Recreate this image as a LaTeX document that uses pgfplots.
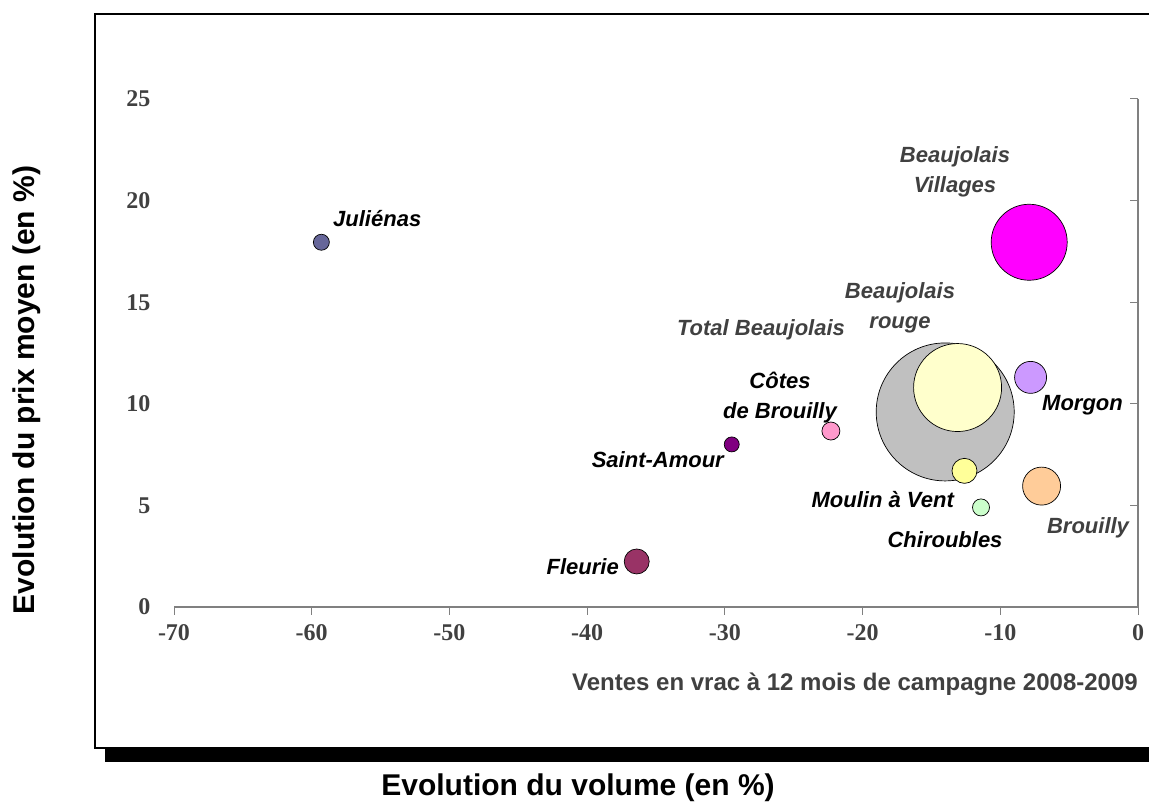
\documentclass[border=0pt]{standalone}
\usepackage{pgfplots}
\pgfplotsset{compat=1.18}
\usepackage{fontspec}
\setmainfont{Liberation Sans}
\newfontfamily\timesf{Liberation Serif}
\definecolor{cJul}{HTML}{666699}
\definecolor{cVil}{HTML}{FF00FF}
\definecolor{cTot}{HTML}{C0C0C0}
\definecolor{cRou}{HTML}{FFFFCC}
\definecolor{cMor}{HTML}{CC99FF}
\definecolor{cMou}{HTML}{FFFF99}
\definecolor{cChi}{HTML}{CCFFCC}
\definecolor{cBro}{HTML}{FFCC99}
\definecolor{cCot}{HTML}{FF99CC}
\definecolor{cSai}{HTML}{800080}
\definecolor{cFle}{HTML}{993366}
\definecolor{txtgray}{HTML}{404040}
\definecolor{axgray}{HTML}{808080}
\begin{document}
\begin{tikzpicture}[x=1pt,y=1pt]
\useasboundingbox (0,0) rectangle (1149,806);
\begin{scope}
\clip (0,0) rectangle (1149,806);
\fill[black] (105,44) rectangle (1160,58);
\draw[line width=2pt] (1160,58) -- (95,58) -- (95,792) -- (1160,792);
\end{scope}
\begin{axis}[
  at={(174pt,199pt)}, anchor=south west,
  scale only axis, width=964pt, height=508pt,
  xmin=-70, xmax=0, ymin=0, ymax=25,
  clip=false,
  axis line style={draw=none},
  xtick={-70,-60,-50,-40,-30,-20,-10,0},
  xticklabels={{-70},{-60},{-50},{-40},{-30},{-20},{-10},{0}},
  ytick={0,5,10,15,20,25},
  yticklabels={0,5,10,15,20,25},
  xtick pos=bottom, ytick pos=left,
  tick align=outside,
  major tick length=8pt,
  xtick style={axgray, line width=1pt},
  ytick style={draw=none},
  ticklabel style={font=\timesf\bfseries\fontsize{24}{24}\selectfont, text=txtgray},
  xticklabel style={yshift=-6pt},
  yticklabel style={xshift=-12pt},
]
\draw[axgray, line width=1.2pt] (axis cs:-70,0) -- (axis cs:0,0) -- (axis cs:0,25);
\draw[axgray, line width=1pt] (axis cs:0,5) -- ++(-8pt,0pt);
\draw[axgray, line width=1pt] (axis cs:0,10) -- ++(-8pt,0pt);
\draw[axgray, line width=1pt] (axis cs:0,15) -- ++(-8pt,0pt);
\draw[axgray, line width=1pt] (axis cs:0,20) -- ++(-8pt,0pt);
\draw[axgray, line width=1pt] (axis cs:0,25) -- ++(-8pt,0pt);
% bubbles
\addplot[only marks, mark=*, mark size=69pt, mark options={fill=cTot, draw=black, line width=0.7pt}] coordinates {(-14.0,9.6)};
\addplot[only marks, mark=*, mark size=44pt, mark options={fill=cRou, draw=black, line width=0.7pt}] coordinates {(-13.1,10.8)};
\addplot[only marks, mark=*, mark size=12.5pt, mark options={fill=cMou, draw=black, line width=0.7pt}] coordinates {(-12.6,6.7)};
\addplot[only marks, mark=*, mark size=38pt, mark options={fill=cVil, draw=black, line width=0.7pt}] coordinates {(-7.9,17.95)};
\addplot[only marks, mark=*, mark size=8pt, mark options={fill=cJul, draw=black, line width=0.7pt}] coordinates {(-59.3,17.95)};
\addplot[only marks, mark=*, mark size=16pt, mark options={fill=cMor, draw=black, line width=0.7pt}] coordinates {(-7.8,11.3)};
\addplot[only marks, mark=*, mark size=8.5pt, mark options={fill=cChi, draw=black, line width=0.7pt}] coordinates {(-11.4,4.9)};
\addplot[only marks, mark=*, mark size=19pt, mark options={fill=cBro, draw=black, line width=0.7pt}] coordinates {(-7.0,5.95)};
\addplot[only marks, mark=*, mark size=9pt, mark options={fill=cCot, draw=black, line width=0.7pt}] coordinates {(-22.3,8.66)};
\addplot[only marks, mark=*, mark size=7.5pt, mark options={fill=cSai, draw=black, line width=0.7pt}] coordinates {(-29.5,8.0)};
\addplot[only marks, mark=*, mark size=12.5pt, mark options={fill=cFle, draw=black, line width=0.7pt}] coordinates {(-36.4,2.24)};
\end{axis}
% bubble labels
\tikzset{lab/.style={font=\bfseries\itshape\fontsize{22}{30}\selectfont, inner sep=0pt, align=center}}
\node[lab, anchor=west] at (333,587) {Juliénas};
\node[lab, text=txtgray] at (955,634) {Beaujolais\\Villages};
\node[lab, text=txtgray] at (900,498) {Beaujolais\\rouge};
\node[lab, text=txtgray] at (761,476) {Total Beaujolais};
\node[lab] at (780,408) {Côtes\\de Brouilly};
\node[lab, anchor=east] at (724,346) {Saint-Amour};
\node[lab, anchor=east] at (619,239) {Fleurie};
\node[lab, anchor=west] at (1042,401) {Morgon};
\node[lab, anchor=east] at (954,306) {Moulin à Vent};
\node[lab] at (945,266) {Chiroubles};
\node[lab, text=txtgray] at (1088,278) {Brouilly};
% titles
\node[rotate=90, font=\bfseries\fontsize{30}{30}\selectfont] at (27,416) {Evolution du prix moyen (en \%)};
\node[font=\bfseries\fontsize{30}{30}\selectfont] at (578,18) {Evolution du volume (en \%)};
\node[anchor=east, inner sep=0pt, font=\bfseries\fontsize{24}{24}\selectfont, text=txtgray] at (1138,122) {Ventes en vrac à 12 mois de campagne 2008-2009};
\end{tikzpicture}
\end{document}
